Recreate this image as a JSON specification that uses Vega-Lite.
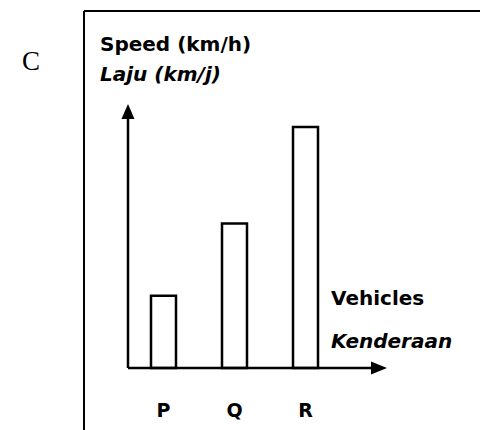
{
  "$schema": "https://vega.github.io/schema/vega-lite/v6.json",
  "width": 396,
  "height": 419,
  "autosize": "none",
  "padding": {"left": 84, "top": 11, "right": 0, "bottom": 0},
  "background": "white",
  "config": {"view": {"stroke": null}},
  "layer": [
    {
      "data": {"values": [
        {"vehicle": "P", "speed": 30},
        {"vehicle": "Q", "speed": 60},
        {"vehicle": "R", "speed": 100}
      ]},
      "encoding": {
        "x": {"field": "vehicle", "type": "nominal", "axis": null,
              "scale": {"domain": ["P", "Q", "R"], "range": [67, 234], "paddingInner": 0.648, "paddingOuter": 0}}
      },
      "layer": [
        {
          "mark": {"type": "bar", "fill": "white", "stroke": "black", "strokeWidth": 2.5},
          "encoding": {
            "y": {"field": "speed", "type": "quantitative", "axis": null,
                  "scale": {"domain": [-25.73, 148.13], "nice": false, "zero": false}}
          }
        },
        {
          "mark": {"type": "text", "font": "DejaVu Sans", "fontWeight": "bold", "fontSize": 19, "baseline": "middle", "align": "center", "color": "black"},
          "encoding": {
            "y": {"datum": -17.8, "type": "quantitative"},
            "text": {"field": "vehicle"}
          }
        }
      ]
    },
    {
      "data": {"values": [{}]},
      "layer": [
        {
          "mark": {"type": "rule", "color": "black", "strokeWidth": 2},
          "encoding": {
            "x": {"datum": 0, "type": "quantitative", "axis": null, "scale": {"domain": [0, 99], "nice": false, "zero": false}},
            "y": {"datum": -25.73, "type": "quantitative"},
            "y2": {"datum": 148.13}
          }
        },
        {
          "mark": {"type": "rule", "color": "black", "strokeWidth": 2},
          "encoding": {
            "x": {"datum": 0, "type": "quantitative"},
            "x2": {"datum": 99},
            "y": {"datum": 148.13, "type": "quantitative"}
          }
        },
        {
          "mark": {"type": "rule", "color": "black", "strokeWidth": 2.5},
          "encoding": {
            "x": {"datum": 11, "type": "quantitative"},
            "y": {"datum": 0, "type": "quantitative"},
            "y2": {"datum": 106}
          }
        },
        {
          "mark": {"type": "rule", "color": "black", "strokeWidth": 2.5},
          "encoding": {
            "x": {"datum": 11, "type": "quantitative"},
            "x2": {"datum": 73.75},
            "y": {"datum": 0, "type": "quantitative"}
          }
        },
        {
          "mark": {"type": "point", "shape": "M0,-1L0.87,1L-0.87,1Z", "filled": true, "color": "black", "opacity": 1, "size": 225},
          "encoding": {
            "x": {"datum": 11, "type": "quantitative"},
            "y": {"datum": 106.4, "type": "quantitative"}
          }
        },
        {
          "mark": {"type": "point", "shape": "M1,0L-1,-0.8L-1,0.8Z", "filled": true, "color": "black", "opacity": 1, "size": 256},
          "encoding": {
            "x": {"datum": 73.75, "type": "quantitative"},
            "y": {"datum": 0, "type": "quantitative"}
          }
        },
        {
          "mark": {"type": "text", "font": "Liberation Serif", "fontSize": 27, "baseline": "middle", "align": "center", "color": "black"},
          "encoding": {
            "x": {"datum": -13.25, "type": "quantitative"},
            "y": {"datum": 127, "type": "quantitative"},
            "text": {"value": "C"}
          }
        },
        {
          "mark": {"type": "text", "font": "DejaVu Sans", "fontWeight": "bold", "fontSize": 20, "baseline": "middle", "align": "left", "color": "black"},
          "encoding": {
            "x": {"datum": 4, "type": "quantitative"},
            "y": {"datum": 134, "type": "quantitative"},
            "text": {"value": "Speed (km/h)"}
          }
        },
        {
          "mark": {"type": "text", "font": "DejaVu Sans", "fontWeight": "bold", "fontStyle": "italic", "fontSize": 20, "baseline": "middle", "align": "left", "color": "black"},
          "encoding": {
            "x": {"datum": 4, "type": "quantitative"},
            "y": {"datum": 121.6, "type": "quantitative"},
            "text": {"value": "Laju (km/j)"}
          }
        },
        {
          "mark": {"type": "text", "font": "DejaVu Sans", "fontWeight": "bold", "fontSize": 20, "baseline": "middle", "align": "left", "color": "black"},
          "encoding": {
            "x": {"datum": 61.75, "type": "quantitative"},
            "y": {"datum": 28.6, "type": "quantitative"},
            "text": {"value": "Vehicles"}
          }
        },
        {
          "mark": {"type": "text", "font": "DejaVu Sans", "fontWeight": "bold", "fontStyle": "italic", "fontSize": 20, "baseline": "middle", "align": "left", "color": "black"},
          "encoding": {
            "x": {"datum": 61.75, "type": "quantitative"},
            "y": {"datum": 10.8, "type": "quantitative"},
            "text": {"value": "Kenderaan"}
          }
        }
      ]
    }
  ],
  "resolve": {"scale": {"x": "independent"}}
}
